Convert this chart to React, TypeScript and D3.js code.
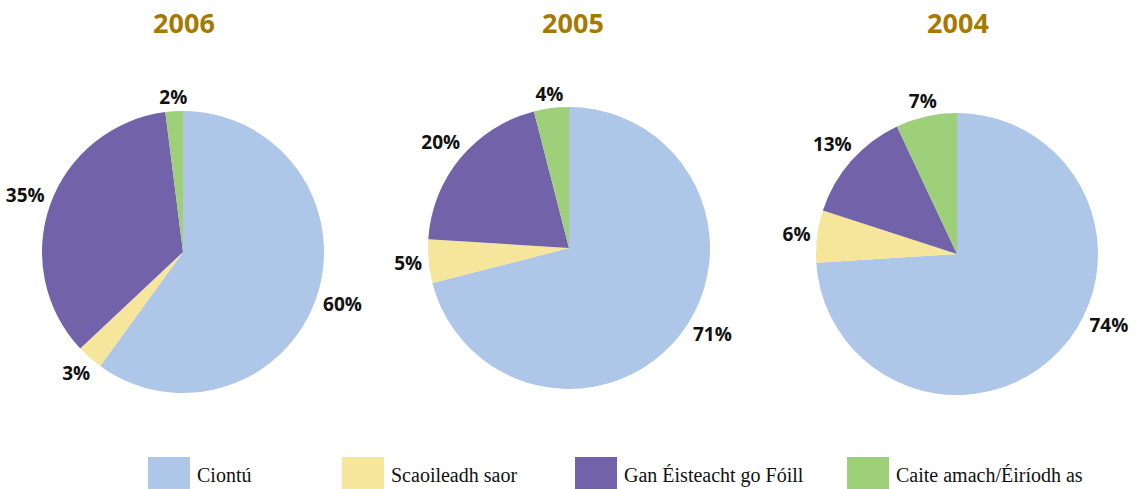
import React from "react";
import * as d3 from "d3";

const years = ["2006", "2005", "2004"];
const categories = ["Ciontú", "Scaoileadh saor", "Gan Éisteacht go Fóill", "Caite amach/Éiríodh as"];
const values2006 = [60, 3, 35, 2];
const values2005 = [71, 5, 20, 4];
const values2004 = [74, 6, 13, 7];
const seriesValues = [values2006, values2005, values2004];
const colors = ["#AEC6E8", "#F6E69C", "#7262AA", "#9ECF79"];

const centers = [
  { x: 183, y: 252 },
  { x: 569, y: 248 },
  { x: 957, y: 254 },
];
const titleX = [184, 573, 958];
const legendX = [148, 342, 575, 847];
// label angle overrides (degrees from 12 o'clock) for labels nudged by the original layout
const labelAngleOverride: Record<string, number> = { "1-0": 121, "2-0": 115 };

export default function App() {
  const R = 141;
  const GAP = 6;
  const FS = 19;
  const pie = d3.pie<number>().sort(null).value((d) => d);
  const arc = d3.arc<d3.PieArcDatum<number>>().innerRadius(0).outerRadius(R);
  return (
    <svg width={1136} height={489} style={{ position: "absolute", left: 0, top: 0 }}>
      {seriesValues.map((vals, i) => {
        const arcs = pie(vals);
        const c = centers[i];
        return (
          <g key={i}>
            <text
              x={titleX[i]}
              y={33}
              textAnchor="middle"
              fontFamily="'Open Sans', sans-serif"
              fontWeight={700}
              fontSize={27}
              fill="#A67A00"
            >
              {years[i]}
            </text>
            <g transform={`translate(${c.x},${c.y})`}>
              {arcs.map((a, j) => (
                <path key={j} d={arc(a) || ""} fill={colors[j]} />
              ))}
              {arcs.map((a, j) => {
                const key = `${i}-${j}`;
                let mid = (a.startAngle + a.endAngle) / 2;
                if (labelAngleOverride[key] !== undefined) mid = (labelAngleOverride[key] * Math.PI) / 180;
                const dx = Math.sin(mid);
                const dy = -Math.cos(mid);
                const label = `${a.data}%`;
                const w = (label.length - 1) * 11 + 17;
                const h = 14;
                const d = R + GAP + Math.abs(dx) * (w / 2) + Math.abs(dy) * (h / 2);
                return (
                  <text
                    key={"l" + j}
                    x={dx * d}
                    y={dy * d}
                    textAnchor="middle"
                    dominantBaseline="central"
                    fontFamily="'Open Sans', sans-serif"
                    fontWeight={700}
                    fontSize={FS}
                    fill="#111"
                  >
                    {label}
                  </text>
                );
              })}
            </g>
          </g>
        );
      })}
      {categories.map((cat, j) => (
        <g key={cat}>
          <rect x={legendX[j]} y={457} width={42} height={32} fill={colors[j]} />
          <text
            x={legendX[j] + 49}
            y={482}
            fontFamily="'Liberation Serif', 'Times New Roman', serif"
            fontSize={20}
            fill="#111"
          >
            {cat}
          </text>
        </g>
      ))}
    </svg>
  );
}
